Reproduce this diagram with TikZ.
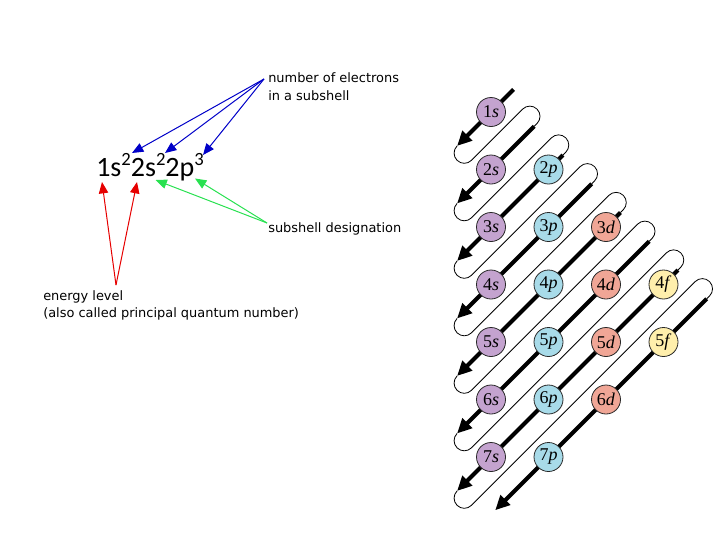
\documentclass[tikz,border=0pt]{standalone}
\usepackage{fontspec}
\usetikzlibrary{arrows.meta}
\newfontfamily\notefont{DejaVu Sans}
\newfontfamily\cfgfont{Carlito}
\newfontfamily\orbfont{Liberation Serif}
\newcommand{\cfgsup}[1]{\raisebox{8.2pt}{\fontsize{14}{14}\selectfont #1}}

\begin{document}
\begin{tikzpicture}[x=0.75pt,y=0.75pt,yscale=-1,xscale=1,
  orb/.style={circle,draw={rgb, 255:red, 40; green, 40; blue, 40},line width=0.6pt,minimum size=21.75pt,inner sep=0pt,font=\orbfont\fontsize{13.5}{13.5}\selectfont},
  sorb/.style={orb,fill={rgb, 255:red, 196; green, 163; blue, 207}},
  porb/.style={orb,fill={rgb, 255:red, 168; green, 219; blue, 233}},
  dorb/.style={orb,fill={rgb, 255:red, 240; green, 166; blue, 150}},
  forb/.style={orb,fill={rgb, 255:red, 255; green, 239; blue, 172}},
  diag/.style={line width=3pt,-{Triangle[length=11pt,width=10pt]}},
  hairpin/.style={line width=0.6pt,rounded corners=7.6pt},
  note/.style={anchor=base west,inner sep=0pt,font=\notefont\fontsize{9.7}{11}\selectfont},
  pointer/.style={line width=0.75pt,-{Triangle[length=8.5pt,width=7pt]}},
  bluearr/.style={pointer,color={rgb, 255:red, 0; green, 0; blue, 200}},
  greenarr/.style={pointer,color={rgb, 255:red, 40; green, 225; blue, 80}},
  redarr/.style={pointer,color={rgb, 255:red, 230; green, 0; blue, 0}}
]
\useasboundingbox (0,0) rectangle (720,540);

% Text Node
\node[anchor=base west,inner sep=0pt,font=\cfgfont\fontsize{21}{21}\selectfont] (conf) at (96,176) {1s\cfgsup{2}2s\cfgsup{2}2p\cfgsup{3}};
% Text Node
\node[note] (lblnum) at (268,82) {number of electrons};
% Text Node
\node[note] (lblsub) at (268,100) {in a subshell};
% Text Node
\node[note] (lbldes) at (268,232) {subshell designation};
% Text Node
\node[note] (lblen) at (43,300) {energy level};
% Text Node
\node[note] (lblpqn) at (43,317.5) {(also called principal quantum number)};

\coordinate (numtail) at (264,79);
\coordinate (sup1) at (132,153);
\coordinate (sup2) at (165,153);
\coordinate (sup3) at (203,155);
\coordinate (destail) at (267,223);
\coordinate (sub1) at (155.5,180);
\coordinate (sub2) at (195,178.5);
\coordinate (lvltail) at (116,285);
\coordinate (lvl1) at (102,182);
\coordinate (lvl2) at (137,182);

%Straight Lines
\draw[bluearr] (numtail) -- (sup1);
\draw[bluearr] (numtail) -- (sup2);
\draw[bluearr] (numtail) -- (sup3);
%Straight Lines
\draw[greenarr] (destail) -- (sub1);
\draw[greenarr] (destail) -- (sub2);
%Straight Lines
\draw[redarr] (lvltail) -- (lvl1);
\draw[redarr] (lvltail) -- (lvl2);

%Hairpins
\draw[hairpin] (457.06,145.94) -- (449.88,153.12) -- (464.25,167.49) -- (529.85,101.91) -- (544.22,116.28) -- (534.18,126.32);
\draw[hairpin] (457.06,203.44) -- (449.88,210.62) -- (464.25,224.99) -- (558.60,130.66) -- (572.97,145.03) -- (562.93,155.07);
\draw[hairpin] (457.06,260.94) -- (449.88,268.12) -- (464.25,282.49) -- (587.35,159.41) -- (601.72,173.78) -- (591.68,183.82);
\draw[hairpin] (457.06,318.44) -- (449.88,325.62) -- (464.25,339.99) -- (616.10,188.16) -- (630.47,202.53) -- (620.43,212.57);
\draw[hairpin] (457.06,375.94) -- (449.88,383.12) -- (464.25,397.49) -- (644.85,216.91) -- (659.22,231.28) -- (649.18,241.32);
\draw[hairpin] (457.06,433.44) -- (449.88,440.62) -- (464.25,454.99) -- (673.60,245.66) -- (687.97,260.03) -- (677.93,270.07);
\draw[hairpin] (457.06,490.94) -- (449.88,498.12) -- (464.25,512.49) -- (702.35,274.41) -- (716.72,288.78) -- (706.68,298.82);

%Thick Arrows
\draw[diag] (513.60,89.40) -- (457.06,145.94);
\draw[diag] (534.18,126.32) -- (457.06,203.44);
\draw[diag] (562.93,155.07) -- (457.06,260.94);
\draw[diag] (591.68,183.82) -- (457.06,318.44);
\draw[diag] (620.43,212.57) -- (457.06,375.94);
\draw[diag] (649.18,241.32) -- (457.06,433.44);
\draw[diag] (677.93,270.07) -- (457.06,490.94);
\draw[diag] (706.68,298.82) -- (495.20,510.20);

%Shape: Circles
\node[sorb] (o1s) at (491,112) {1\textit{s}};
\node[sorb] (o2s) at (491,169.5) {2\textit{s}};
\node[porb] (o2p) at (548.5,169.5) {2\textit{p}};
\node[sorb] (o3s) at (491,227) {3\textit{s}};
\node[porb] (o3p) at (548.5,227) {3\textit{p}};
\node[dorb] (o3d) at (606,227) {3\textit{d}};
\node[sorb] (o4s) at (491,284.5) {4\textit{s}};
\node[porb] (o4p) at (548.5,284.5) {4\textit{p}};
\node[dorb] (o4d) at (606,284.5) {4\textit{d}};
\node[forb] (o4f) at (663.5,284.5) {4\textit{f}};
\node[sorb] (o5s) at (491,342) {5\textit{s}};
\node[porb] (o5p) at (548.5,342) {5\textit{p}};
\node[dorb] (o5d) at (606,342) {5\textit{d}};
\node[forb] (o5f) at (663.5,342) {5\textit{f}};
\node[sorb] (o6s) at (491,399.5) {6\textit{s}};
\node[porb] (o6p) at (548.5,399.5) {6\textit{p}};
\node[dorb] (o6d) at (606,399.5) {6\textit{d}};
\node[sorb] (o7s) at (491,457) {7\textit{s}};
\node[porb] (o7p) at (548.5,457) {7\textit{p}};

\end{tikzpicture}
\end{document}
